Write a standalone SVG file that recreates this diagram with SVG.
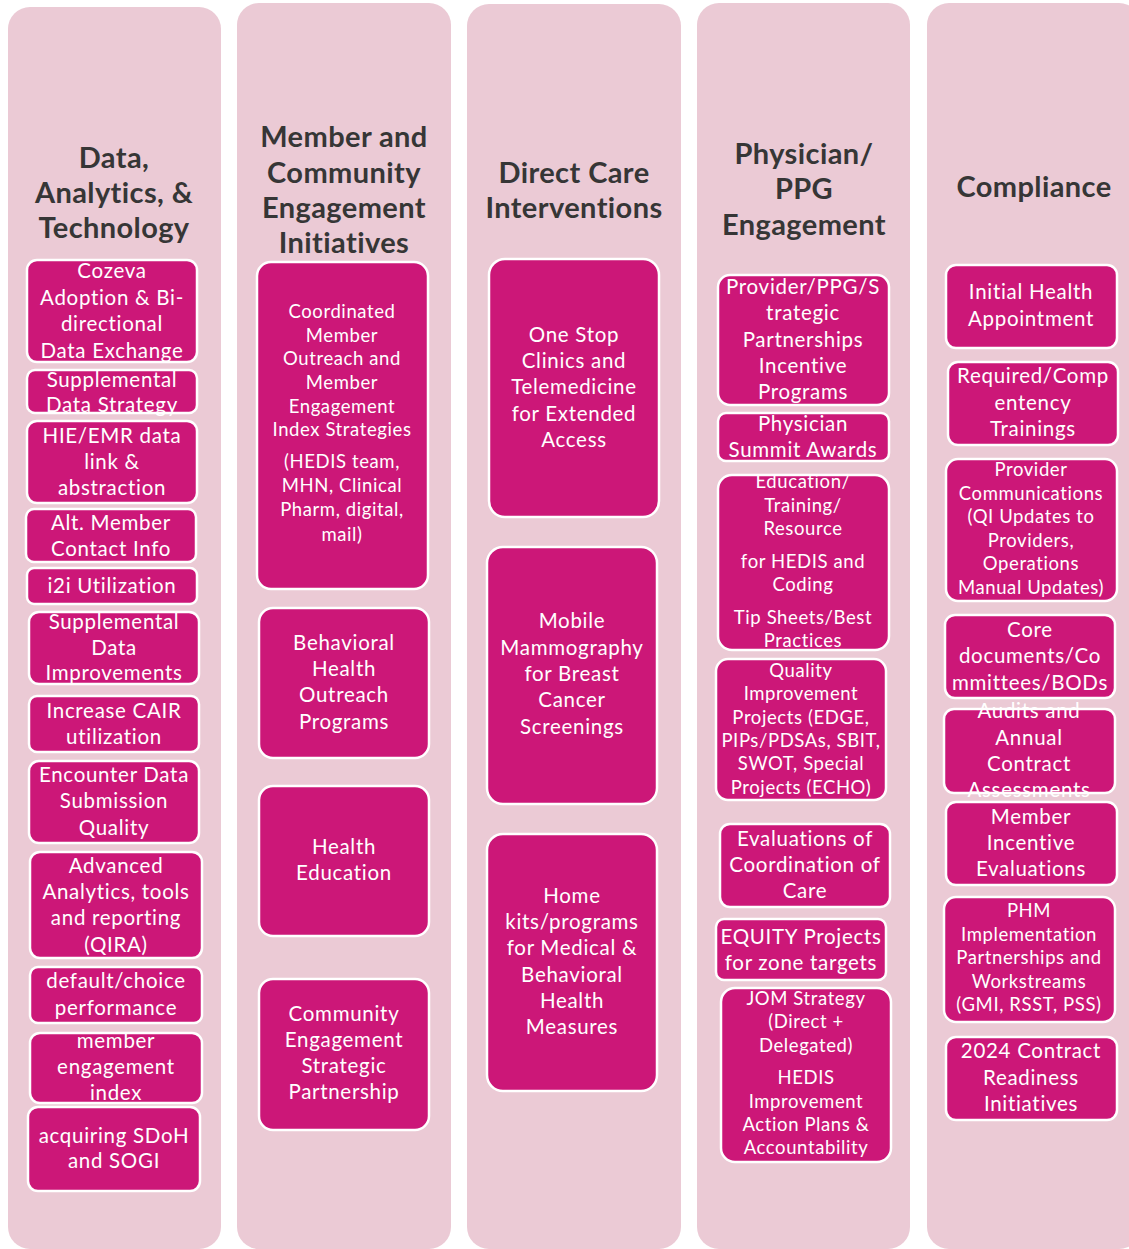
<svg xmlns="http://www.w3.org/2000/svg" width="1129" height="1249" viewBox="0 0 1129 1249">
<style>
.col{fill:#EBCAD5}
.box{fill:#CC1778;stroke:#FFFFFF;stroke-width:2.5}
.t{font-family:Lato,"Liberation Sans",sans-serif;font-size:20.5px;letter-spacing:0.7px;fill:#FFFFFF;text-anchor:middle}
.s{font-size:18.5px;letter-spacing:0.6px}
.h{font-family:Lato,"Liberation Sans",sans-serif;font-weight:bold;font-size:29px;letter-spacing:0.4px;fill:#363636;text-anchor:middle}
</style>
<rect width="1129" height="1249" fill="#FFFFFF"/>
<g id="columns">
<rect class="col" x="8" y="7" width="213" height="1242" rx="22"/>
<rect class="col" x="237" y="3" width="214" height="1246" rx="22"/>
<rect class="col" x="467" y="4" width="214" height="1245" rx="22"/>
<rect class="col" x="697" y="3" width="213" height="1246" rx="22"/>
<rect class="col" x="927" y="3" width="214" height="1246" rx="22"/>
</g>
<g id="headers">
<text class="h"><tspan x="114" y="168">Data,</tspan><tspan x="114" y="203">Analytics, &amp;</tspan><tspan x="114" y="238">Technology</tspan></text>
<text class="h"><tspan x="344" y="147">Member and</tspan><tspan x="344" y="183">Community</tspan><tspan x="344" y="218">Engagement</tspan><tspan x="344" y="253">Initiatives</tspan></text>
<text class="h"><tspan x="574" y="183">Direct Care</tspan><tspan x="574" y="218">Interventions</tspan></text>
<text class="h"><tspan x="804" y="164">Physician/</tspan><tspan x="804" y="199">PPG</tspan><tspan x="804" y="235">Engagement</tspan></text>
<text class="h"><tspan x="1034" y="197">Compliance</tspan></text>
</g>
<g id="connectors"></g>
<g id="col1">
<g id="n1"><rect class="box" x="27" y="260" width="170" height="102" rx="10"/><text class="t"><tspan x="112" y="278">Cozeva</tspan><tspan x="112" y="305">Adoption &amp; Bi-</tspan><tspan x="112" y="331">directional</tspan><tspan x="112" y="358">Data Exchange</tspan></text></g>
<g id="n2"><rect class="box" x="27" y="370" width="170" height="43" rx="8"/><text class="t"><tspan x="112" y="387">Supplemental</tspan><tspan x="112" y="412">Data Strategy</tspan></text></g>
<g id="n3"><rect class="box" x="27" y="421" width="170" height="82" rx="10"/><text class="t"><tspan x="112" y="443">HIE/EMR data</tspan><tspan x="112" y="469">link &amp;</tspan><tspan x="112" y="495">abstraction</tspan></text></g>
<g id="n4"><rect class="box" x="26" y="509" width="170" height="53" rx="8"/><text class="t"><tspan x="111" y="530">Alt. Member</tspan><tspan x="111" y="556">Contact Info</tspan></text></g>
<g id="n5"><rect class="box" x="27" y="568" width="170" height="36" rx="7"/><text class="t"><tspan x="112" y="593">i2i Utilization</tspan></text></g>
<g id="n6"><rect class="box" x="29" y="612" width="170" height="72" rx="10"/><text class="t"><tspan x="114" y="629">Supplemental</tspan><tspan x="114" y="655">Data</tspan><tspan x="114" y="680">Improvements</tspan></text></g>
<g id="n7"><rect class="box" x="29" y="696" width="170" height="56" rx="8"/><text class="t"><tspan x="114" y="718">Increase CAIR</tspan><tspan x="114" y="744">utilization</tspan></text></g>
<g id="n8"><rect class="box" x="29" y="761" width="170" height="82" rx="10"/><text class="t"><tspan x="114" y="782">Encounter Data</tspan><tspan x="114" y="808">Submission</tspan><tspan x="114" y="835">Quality</tspan></text></g>
<g id="n9"><rect class="box" x="30" y="852" width="172" height="106" rx="10"/><text class="t"><tspan x="116" y="873">Advanced</tspan><tspan x="116" y="899">Analytics, tools</tspan><tspan x="116" y="925">and reporting</tspan><tspan x="116" y="952">(QIRA)</tspan></text></g>
<g id="n10"><rect class="box" x="30" y="967" width="172" height="56" rx="8"/><text class="t"><tspan x="116" y="988">default/choice</tspan><tspan x="116" y="1015">performance</tspan></text></g>
<g id="n11"><rect class="box" x="30" y="1033" width="172" height="70" rx="10"/><text class="t"><tspan x="116" y="1048">member</tspan><tspan x="116" y="1074">engagement</tspan><tspan x="116" y="1100">index</tspan></text></g>
<g id="n12"><rect class="box" x="28" y="1107" width="172" height="84" rx="10"/><text class="t"><tspan x="114" y="1143">acquiring SDoH</tspan><tspan x="114" y="1168">and SOGI</tspan></text></g>
</g>
<g id="col2">
<g id="n13"><rect class="box" x="257" y="262" width="171" height="327" rx="14"/><text class="t s"><tspan x="342" y="318">Coordinated</tspan><tspan x="342" y="342">Member</tspan><tspan x="342" y="365">Outreach and</tspan><tspan x="342" y="389">Member</tspan><tspan x="342" y="413">Engagement</tspan><tspan x="342" y="436">Index Strategies</tspan><tspan x="342" y="468">(HEDIS team,</tspan><tspan x="342" y="492">MHN, Clinical</tspan><tspan x="342" y="516">Pharm, digital,</tspan><tspan x="342" y="541">mail)</tspan></text></g>
<g id="n14"><rect class="box" x="259" y="608" width="170" height="150" rx="14"/><text class="t"><tspan x="344" y="650">Behavioral</tspan><tspan x="344" y="676">Health</tspan><tspan x="344" y="702">Outreach</tspan><tspan x="344" y="729">Programs</tspan></text></g>
<g id="n15"><rect class="box" x="259" y="786" width="170" height="150" rx="14"/><text class="t"><tspan x="344" y="854">Health</tspan><tspan x="344" y="880">Education</tspan></text></g>
<g id="n16"><rect class="box" x="259" y="979" width="170" height="151" rx="14"/><text class="t"><tspan x="344" y="1021">Community</tspan><tspan x="344" y="1047">Engagement</tspan><tspan x="344" y="1073">Strategic</tspan><tspan x="344" y="1099">Partnership</tspan></text></g>
</g>
<g id="col3">
<g id="n17"><rect class="box" x="489" y="259" width="170" height="258" rx="16"/><text class="t"><tspan x="574" y="342">One Stop</tspan><tspan x="574" y="368">Clinics and</tspan><tspan x="574" y="394">Telemedicine</tspan><tspan x="574" y="421">for Extended</tspan><tspan x="574" y="447">Access</tspan></text></g>
<g id="n18"><rect class="box" x="487" y="547" width="170" height="257" rx="16"/><text class="t"><tspan x="572" y="628">Mobile</tspan><tspan x="572" y="655">Mammography</tspan><tspan x="572" y="681">for Breast</tspan><tspan x="572" y="707">Cancer</tspan><tspan x="572" y="734">Screenings</tspan></text></g>
<g id="n19"><rect class="box" x="487" y="834" width="170" height="257" rx="16"/><text class="t"><tspan x="572" y="903">Home</tspan><tspan x="572" y="929">kits/programs</tspan><tspan x="572" y="955">for Medical &amp;</tspan><tspan x="572" y="982">Behavioral</tspan><tspan x="572" y="1008">Health</tspan><tspan x="572" y="1034">Measures</tspan></text></g>
</g>
<g id="col4">
<g id="n20"><rect class="box" x="718" y="275" width="171" height="130" rx="12"/><text class="t"><tspan x="803" y="294">Provider/PPG/S</tspan><tspan x="803" y="320">trategic</tspan><tspan x="803" y="347">Partnerships</tspan><tspan x="803" y="373">Incentive</tspan><tspan x="803" y="399">Programs</tspan></text></g>
<g id="n21"><rect class="box" x="718" y="413" width="171" height="48" rx="8"/><text class="t"><tspan x="803" y="431">Physician</tspan><tspan x="803" y="457">Summit Awards</tspan></text></g>
<g id="n22"><rect class="box" x="718" y="475" width="171" height="175" rx="14"/><text class="t s"><tspan x="803" y="488">Education/</tspan><tspan x="803" y="512">Training/</tspan><tspan x="803" y="535">Resource</tspan><tspan x="803" y="568">for HEDIS and</tspan><tspan x="803" y="591">Coding</tspan><tspan x="803" y="624">Tip Sheets/Best</tspan><tspan x="803" y="647">Practices</tspan></text></g>
<g id="n23"><rect class="box" x="716" y="659" width="170" height="141" rx="12"/><text class="t s"><tspan x="801" y="677">Quality</tspan><tspan x="801" y="700">Improvement</tspan><tspan x="801" y="724">Projects (EDGE,</tspan><tspan x="801" y="747">PIPs/PDSAs, SBIT,</tspan><tspan x="801" y="770">SWOT, Special</tspan><tspan x="801" y="794">Projects (ECHO)</tspan></text></g>
<g id="n24"><rect class="box" x="720" y="824" width="170" height="83" rx="10"/><text class="t"><tspan x="805" y="846">Evaluations of</tspan><tspan x="805" y="872">Coordination of</tspan><tspan x="805" y="898">Care</tspan></text></g>
<g id="n25"><rect class="box" x="716" y="919" width="170" height="61" rx="8"/><text class="t"><tspan x="801" y="944">EQUITY Projects</tspan><tspan x="801" y="970">for zone targets</tspan></text></g>
<g id="n26"><rect class="box" x="721" y="988" width="170" height="174" rx="14"/><text class="t s"><tspan x="806" y="1005">JOM Strategy</tspan><tspan x="806" y="1028">(Direct +</tspan><tspan x="806" y="1052">Delegated)</tspan><tspan x="806" y="1084">HEDIS</tspan><tspan x="806" y="1108">Improvement</tspan><tspan x="806" y="1131">Action Plans &amp;</tspan><tspan x="806" y="1154">Accountability</tspan></text></g>
</g>
<g id="col5">
<g id="n27"><rect class="box" x="946" y="265" width="171" height="83" rx="10"/><text class="t"><tspan x="1031" y="299">Initial Health</tspan><tspan x="1031" y="326">Appointment</tspan></text></g>
<g id="n28"><rect class="box" x="948" y="362" width="170" height="83" rx="10"/><text class="t"><tspan x="1033" y="383">Required/Comp</tspan><tspan x="1033" y="410">entency</tspan><tspan x="1033" y="436">Trainings</tspan></text></g>
<g id="n29"><rect class="box" x="946" y="459" width="171" height="142" rx="12"/><text class="t s"><tspan x="1031" y="476">Provider</tspan><tspan x="1031" y="500">Communications</tspan><tspan x="1031" y="523">(QI Updates to</tspan><tspan x="1031" y="547">Providers,</tspan><tspan x="1031" y="570">Operations</tspan><tspan x="1031" y="594">Manual Updates)</tspan></text></g>
<g id="n30"><rect class="box" x="945" y="615" width="170" height="83" rx="10"/><text class="t"><tspan x="1030" y="637">Core</tspan><tspan x="1030" y="663">documents/Co</tspan><tspan x="1030" y="690">mmittees/BODs</tspan></text></g>
<g id="n31"><rect class="box" x="944" y="709" width="171" height="84" rx="10"/><text class="t"><tspan x="1029" y="718">Audits and</tspan><tspan x="1029" y="745">Annual</tspan><tspan x="1029" y="771">Contract</tspan><tspan x="1029" y="797">Assessments</tspan></text></g>
<g id="n32"><rect class="box" x="946" y="802" width="171" height="83" rx="10"/><text class="t"><tspan x="1031" y="824">Member</tspan><tspan x="1031" y="850">Incentive</tspan><tspan x="1031" y="876">Evaluations</tspan></text></g>
<g id="n33"><rect class="box" x="944" y="897" width="171" height="125" rx="12"/><text class="t s"><tspan x="1029" y="917">PHM</tspan><tspan x="1029" y="941">Implementation</tspan><tspan x="1029" y="964">Partnerships and</tspan><tspan x="1029" y="988">Workstreams</tspan><tspan x="1029" y="1011">(GMI, RSST, PSS)</tspan></text></g>
<g id="n34"><rect class="box" x="946" y="1037" width="171" height="83" rx="10"/><text class="t"><tspan x="1031" y="1058">2024 Contract</tspan><tspan x="1031" y="1085">Readiness</tspan><tspan x="1031" y="1111">Initiatives</tspan></text></g>
</g>
</svg>
